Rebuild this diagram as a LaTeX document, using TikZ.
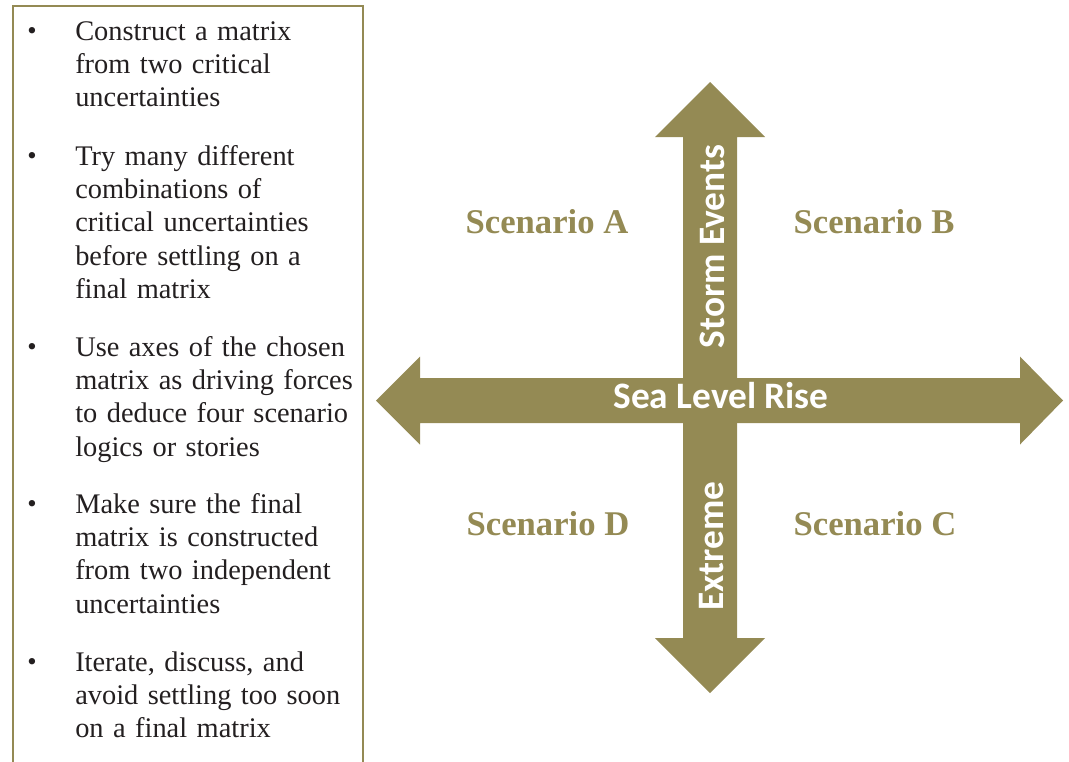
\documentclass[tikz,border=0pt]{standalone}
\usepackage{fontspec}
\setmainfont{Liberation Serif}
\newfontfamily\axisfont{Carlito}
\usepackage{xcolor}
\usepackage{tikz}
\usetikzlibrary{positioning}

\definecolor{olivetan}{HTML}{948A54}
\definecolor{inkgray}{HTML}{231F20}

\tikzset{
  itemtext/.style={anchor=base west, inner sep=0pt, align=left, text width=300pt,
    text=inkgray, font=\fontsize{21.3}{25}\selectfont},
  itemdot/.style={inner sep=0pt, text=inkgray, font=\fontsize{20}{20}\selectfont},
  scenario/.style={inner sep=0pt, text=olivetan, font=\fontsize{26}{26}\selectfont\bfseries},
  axislabel/.style={inner sep=0pt, anchor=base, text=white,
    font=\axisfont\fontsize{28}{28}\selectfont\bfseries},
  boxline/.style={draw=olivetan, line width=1.5pt},
}

\begin{document}
\begin{tikzpicture}[x=0.75pt, y=-0.75pt]
  \useasboundingbox (0,0) rectangle (1069,761);

  % list box, open at the bottom
  \draw[boxline] (13,770) -- (13,6) -- (363,6) -- (363,770);

  \node[itemtext] (i1) at (75,40) {Construct a matrix\\from two critical\\uncertainties};
  \node[itemtext] (i2) at (75,165) {Try many different\\combinations of\\critical uncertainties\\before settling on a\\final matrix};
  \node[itemtext] (i3) at (75,356) {Use axes of the chosen\\matrix as driving forces\\to deduce four scenario\\logics or stories};
  \node[itemtext] (i4) at (75,513) {Make sure the final\\matrix is constructed\\from two independent\\uncertainties};
  \node[itemtext] (i5) at (75,671) {Iterate, discuss, and\\avoid settling too soon\\on a final matrix};

  \node[itemdot] (d1) at (32,33) {\textbullet};
  \node[itemdot] (d2) at (32,158) {\textbullet};
  \node[itemdot] (d3) at (32,349) {\textbullet};
  \node[itemdot] (d4) at (32,506) {\textbullet};
  \node[itemdot] (d5) at (32,664) {\textbullet};

  % the two axes
  \fill[olivetan] (376,400.5) -- (420,356.5) -- (420,378) -- (1020,378) -- (1020,356.5)
    -- (1063,400.5) -- (1020,444.5) -- (1020,423) -- (420,423) -- (420,444.5) -- cycle;
  \fill[olivetan] (710,82) -- (765,137) -- (737,137) -- (737,638) -- (765,638)
    -- (710,693) -- (655,638) -- (683,638) -- (683,137) -- (655,137) -- cycle;

  \node[axislabel] (sea) at (721,408) {Sea Level Rise};
  \node[axislabel, rotate=90] (storm) at (724,246.5) {Storm Events};
  \node[axislabel, rotate=90] (extreme) at (723,546) {Extreme};

  % quadrants
  \node[scenario] (sa) at (547,222) {Scenario A};
  \node[scenario] (sb) at (874,222) {Scenario B};
  \node[scenario] (sd) at (548,524) {Scenario D};
  \node[scenario] (sc) at (875,524) {Scenario C};
\end{tikzpicture}
\end{document}
